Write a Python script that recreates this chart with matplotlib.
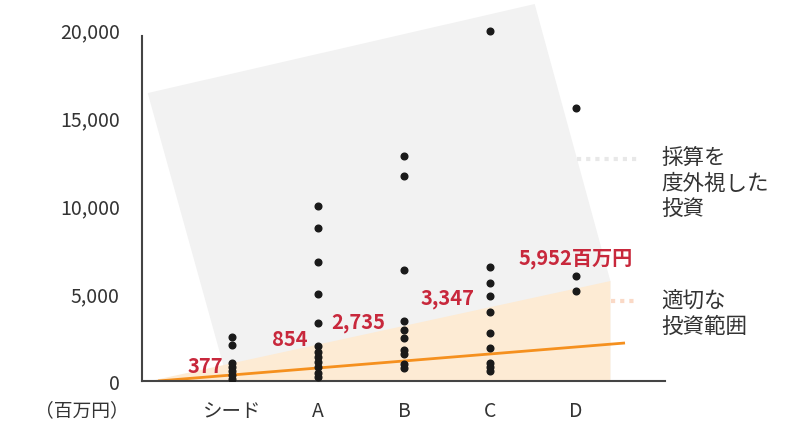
import matplotlib.pyplot as plt
import numpy as np

plt.rcParams['font.family'] = ['Noto Sans CJK JP', 'DejaVu Sans']

# funding rounds and the deals in each (millions of yen)
stages = ['シード', 'A', 'B', 'C', 'D']
seed = [2500, 2045, 1023, 795, 568, 341, 114]
round_a = [9943, 8693, 6761, 4943, 3295, 1989, 1648, 1364, 1080, 795, 455, 227]
round_b = [12784, 11648, 6307, 3409, 2898, 2443, 1761, 1534, 966, 739]
round_c = [19886, 6477, 5568, 4830, 3920, 2727, 1875, 1023, 795, 568]
round_d = [15511, 5952, 5097]
median_labels = ['377', '854', '2,735', '3,347', '5,952百万円']
yticks = [0, 5000, 10000, 15000, 20000]

# trend line and the two shaded zones
trend_x = [-0.86, 4.57]
trend_y = [0, 2160]
fit_x = [-0.95, 4.4, 4.4]
fit_y = [0, 5680, 0]
over_x = [-0.98, 3.52, 4.4, 4.4, -0.05]
over_y = [16360, 21420, 5680, 0, 0]

fig = plt.figure(figsize=(7.95, 4.27), dpi=100)
ax = fig.add_axes([142/795, 45/427, 523/795, 382/427])

ax.fill(over_x, over_y, color='#F2F2F2', lw=0, zorder=0)
ax.fill(fit_x, fit_y, color='#FDEBD4', lw=0, zorder=1)
ax.plot(trend_x, trend_y, color='#F5901E', lw=2, zorder=2, solid_capstyle='butt')

for i, vals in enumerate([seed, round_a, round_b, round_c, round_d]):
    ax.plot([i]*len(vals), vals, 'o', color='#1a1a1a', ms=4.8, zorder=3)

red = '#C8283C'
lab_pos = [(-0.1, 280, 'right'), (-0.12, 1790, 'right'), (-0.22, 2790, 'right'),
           (-0.18, 4150, 'right'), (0.0, 6400, 'center')]
for i, ((dx, yy, ha), t) in enumerate(zip(lab_pos, median_labels)):
    ax.text(i + dx, yy, t, color=red, fontsize=14.5, fontweight='bold',
            ha=ha, va='bottom', zorder=4)

# leader dots to the side notes
ax.plot([4.01, 4.71], [12614, 12614], color='#E8E8E8', lw=3,
        dashes=(1, 1.2), clip_on=False)
ax.plot([4.41, 4.71], [4545, 4545], color='#FAD9C6', lw=3,
        dashes=(1, 1.2), clip_on=False)
fig.text(661/795, 1 - 183.5/427, '採算を\n度外視した\n投資', fontsize=15.5,
         color='#333333', ha='left', va='center', linespacing=1.2)
fig.text(661/795, 1 - 314/427, '適切な\n投資範囲', fontsize=15.5,
         color='#333333', ha='left', va='center', linespacing=1.2)
fig.text(82/795, 1 - 411/427, '（百万円）', fontsize=13.5, color='#333333',
         ha='center', va='center')

ax.set_xlim(-1.0465, 5.035)
ax.set_ylim(0, 21705)
ax.set_xticks(range(len(stages)))
ax.set_xticklabels(stages)
ax.set_yticks(yticks)
ax.set_yticklabels([f'{v:,}' for v in yticks])
ax.tick_params(axis='both', length=0, labelsize=14, labelcolor='#333333')
ax.tick_params(axis='y', pad=16)
ax.tick_params(axis='x', pad=14)
for s in ['top', 'right']:
    ax.spines[s].set_visible(False)
for s in ['left', 'bottom']:
    ax.spines[s].set_color('#444444')
    ax.spines[s].set_linewidth(1.5)
ax.spines['left'].set_bounds(0, 19600)
ax.set_facecolor('none')

fig.savefig('out.png', dpi=100)
